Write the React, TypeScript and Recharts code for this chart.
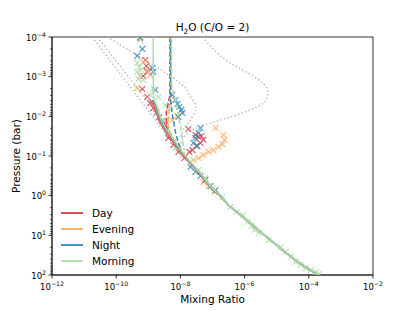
import React from 'react';
import { ScatterChart, Scatter, XAxis, YAxis, ReferenceArea } from 'recharts';

// every point is [mixing ratio, pressure (bar)]
type Pt = [number, number];

const NAMES = ['Day', 'Evening', 'Night', 'Morning'];
const COLORS = ['#d53e4f', '#fdae61', '#3288bd', '#abdda4'];
const GRAY = '#b8b8b8';
const FONT = '"DejaVu Sans", sans-serif';

const X_TICKS = [1e-12, 1e-10, 1e-8, 1e-6, 1e-4, 1e-2];
const Y_DECADES = [1e-4, 1e-3, 1e-2, 1e-1, 1, 10, 100];
const Y_SUBS = [2, 3, 4, 5, 6, 7, 8, 9];
const Y_TICKS = [...Y_DECADES, ...Y_DECADES.slice(0, -1).flatMap((d) => Y_SUBS.map((s) => d * s))];

// solid profiles
const DAY_SOLID: Pt[] = [
  [1.15e-9, 3.9e-3], [1.5e-9, 5.2e-3], [2.1e-9, 1.24e-2], [3.2e-9, 2.2e-2], [5.3e-9, 3.9e-2],
  [9.0e-9, 7.1e-2], [1.62e-8, 0.126], [3.1e-8, 0.225], [5.6e-8, 0.4], [1.0e-7, 0.72],
  [1.7e-7, 1.0], [3.1e-7, 1.72], [7.4e-7, 3.07], [1.52e-6, 4.9], [3.12e-6, 8.2],
  [6.4e-6, 13.1], [1.64e-5, 25], [3.9e-5, 42], [8.1e-5, 63], [1.91e-4, 100],
];
const EVENING_SOLID: Pt[] = [
  [1.25e-9, 3.9e-3], [1.6e-9, 5.2e-3], [2.25e-9, 1.24e-2], [3.45e-9, 2.2e-2], [5.7e-9, 3.9e-2],
  [9.5e-9, 7.1e-2], [1.7e-8, 0.126], [3.25e-8, 0.225], [5.8e-8, 0.4], [1.04e-7, 0.72],
  [1.75e-7, 1.0], [3.13e-7, 1.72], [7.45e-7, 3.07], [1.53e-6, 4.9], [3.14e-6, 8.2],
  [6.45e-6, 13.1], [1.65e-5, 25], [3.9e-5, 42], [8.1e-5, 63], [1.91e-4, 100],
];
const NIGHT_SOLID: Pt[] = [
  [1.33e-9, 3.9e-3], [1.7e-9, 5.2e-3], [2.35e-9, 1.24e-2], [3.6e-9, 2.2e-2], [5.9e-9, 3.9e-2],
  [9.9e-9, 7.1e-2], [1.76e-8, 0.126], [3.35e-8, 0.225], [5.95e-8, 0.4], [1.06e-7, 0.72],
  [1.77e-7, 1.0], [3.16e-7, 1.72], [7.5e-7, 3.07], [1.54e-6, 4.9], [3.16e-6, 8.2],
  [6.5e-6, 13.1], [1.66e-5, 25], [3.9e-5, 42], [8.1e-5, 63], [1.91e-4, 100],
];
const MORNING_SOLID: Pt[] = [
  [1.43e-9, 1e-4], [1.43e-9, 1e-3], [1.45e-9, 2.9e-3], [1.5e-9, 3.9e-3], [1.8e-9, 5.2e-3],
  [2.5e-9, 1.24e-2], [3.8e-9, 2.2e-2], [6.2e-9, 3.9e-2], [1.03e-8, 7.1e-2], [1.82e-8, 0.126],
  [3.45e-8, 0.225], [6.1e-8, 0.4], [1.08e-7, 0.72], [1.8e-7, 1.0], [3.18e-7, 1.72],
  [7.55e-7, 3.07], [1.55e-6, 4.9], [3.18e-6, 8.2], [6.55e-6, 13.1], [1.67e-5, 25],
  [3.92e-5, 42], [8.15e-5, 63], [1.92e-4, 100],
];

// dashed profiles
const DAY_DASH: Pt[] = [[4.7e-9, 1e-4], [4.7e-9, 2.9e-3], [3.65e-9, 8.2e-3], [3.65e-9, 1.86e-2], [6.0e-9, 3.9e-2], [1e-8, 7.1e-2]];
const EVENING_DASH: Pt[] = [[4.9e-9, 1e-4], [4.9e-9, 3.87e-3], [4.2e-9, 9.2e-3], [4.2e-9, 1.97e-2], [6.5e-9, 4.2e-2], [1e-8, 7.1e-2]];
const NIGHT_DASH: Pt[] = [[5.0e-9, 1e-4], [5.0e-9, 3.87e-3], [5.6e-9, 9.2e-3], [7.0e-9, 2.48e-2], [8.7e-9, 4.7e-2], [1.07e-8, 7.1e-2]];
const MORNING_DASH: Pt[] = [[5.3e-9, 1e-4], [5.3e-9, 1.62e-3], [7.5e-9, 5.2e-3], [1e-8, 1.65e-2], [1.15e-8, 3.9e-2], [1.33e-8, 7.1e-2]];

// dotted grey profiles
const DOT_A: Pt[] = [[1.78e-11, 1e-4], [1.66e-9, 1.24e-2], [3.4e-9, 2.63e-2], [8.7e-9, 6.3e-2]];
const DOT_B: Pt[] = [[2.55e-11, 1e-4], [2.05e-9, 9.2e-3], [4.2e-9, 2.2e-2], [1e-8, 5.6e-2]];
const DOT_C: Pt[] = [
  [5.2e-11, 1e-4], [6.0e-9, 1.08e-3], [1.78e-8, 2.58e-3], [2.74e-8, 4.6e-3], [2.94e-8, 6.9e-3],
  [2.05e-8, 1.24e-2], [1.33e-8, 1.97e-2], [1e-8, 3.5e-2],
];
const DOT_D: Pt[] = [
  [4.9e-8, 1e-4], [1.78e-7, 3.0e-4], [7.5e-7, 6.4e-4], [2.55e-6, 1.15e-3], [4.9e-6, 1.93e-3],
  [5.25e-6, 2.9e-3], [3.9e-6, 4.6e-3], [1.24e-6, 7.3e-3], [2.94e-7, 1.1e-2], [8.7e-8, 1.47e-2],
  [3.16e-8, 1.97e-2], [1.43e-8, 2.95e-2], [1e-8, 5.3e-2],
];

// x markers
const DAY_MARK: Pt[] = [
  [5.6e-10, 1.06e-4], [8.1e-10, 3.8e-4], [8.7e-10, 5.4e-4], [9.3e-10, 7.6e-4], [7.0e-10, 9.6e-4],
  [6.5e-10, 2.05e-3], [9.3e-10, 3.25e-3], [1.15e-9, 4.6e-3], [1.43e-9, 6.2e-3], [1.78e-9, 8.2e-3],
  [2.2e-9, 1.04e-2], [2.74e-9, 1.31e-2], [3.4e-9, 1.65e-2], [4.2e-9, 3.5e-2], [6.0e-9, 5.3e-2],
  [8.7e-9, 7.9e-2], [1.33e-8, 0.112], [1.78e-8, 2.08e-2], [2.94e-8, 2.95e-2], [4.5e-8, 3.13e-2],
  [3.65e-8, 3.3e-2], [5.2e-8, 3.9e-2], [4.2e-8, 4.7e-2], [3.16e-8, 5.6e-2], [2.37e-8, 7.1e-2],
  [1.91e-8, 7.9e-2],
];
const EVENING_MARK: Pt[] = [
  [4.5e-10, 1.93e-3], [7.0e-10, 4.3e-4], [1.0e-9, 6.8e-4], [1.15e-9, 9.1e-4], [8.1e-9, 9.8e-3],
  [5.6e-9, 1.24e-2], [1.24e-7, 1.97e-2], [2.2e-7, 2.95e-2], [2.37e-7, 3.9e-2], [2.05e-7, 5.0e-2],
  [1.54e-7, 5.9e-2], [1.07e-7, 7.1e-2], [7.5e-8, 7.9e-2], [5.2e-8, 9.4e-2], [3.65e-8, 0.112],
  [2.55e-8, 0.126], [5.2e-8, 0.45], [7.5e-8, 0.57], [1.15e-7, 0.81],
];
const NIGHT_MARK: Pt[] = [
  [5.6e-10, 1.0e-4], [6.5e-10, 2.0e-4], [4.5e-10, 3.0e-4], [1.33e-9, 6.0e-4], [1.43e-9, 7.6e-4],
  [1.66e-9, 2.17e-3], [5.6e-9, 2.9e-3], [7.0e-9, 3.87e-3], [8.1e-9, 4.9e-3], [9.3e-9, 5.8e-3],
  [1.07e-8, 6.9e-3], [1.15e-8, 8.2e-3], [8.7e-9, 1.04e-2], [4.2e-8, 1.97e-2], [3.65e-8, 2.63e-2],
  [2.94e-8, 3.5e-2], [2.55e-8, 4.7e-2], [3.4e-8, 5.6e-2], [2.05e-8, 0.189], [2.94e-8, 0.253],
  [4.2e-8, 0.32], [6.0e-8, 0.4], [8.7e-8, 0.57], [1.24e-7, 0.72],
];
const MORNING_MARK: Pt[] = [
  [5.6e-10, 1.19e-4], [4.5e-10, 4.5e-4], [5.2e-10, 5.7e-4], [4.5e-10, 7.6e-4], [5.6e-10, 9.6e-4],
  [4.9e-10, 1.15e-3], [7.0e-10, 1.21e-3], [6.0e-10, 6.8e-4], [1.43e-9, 2.05e-3], [1.15e-9, 2.9e-3],
  [2.05e-9, 3.25e-3], [3.4e-9, 5.2e-3], [4.2e-9, 6.2e-3], [1.91e-9, 7.8e-3], [2.94e-9, 1.24e-2],
  [3.9e-9, 2.48e-2], [7.0e-9, 6.3e-2], [1.15e-8, 9.4e-2], [2.05e-8, 0.142], [3.65e-8, 0.225],
  [6.0e-8, 0.36], [1.07e-7, 0.64], [2.05e-7, 1.08], [3.65e-7, 1.93], [5.6e-7, 2.58],
  [8.7e-7, 3.07], [1.24e-6, 4.6], [1.66e-6, 5.8], [2.05e-6, 7.3], [2.74e-6, 8.7],
  [5.6e-6, 13.1], [1.33e-5, 19.7], [1.91e-5, 26], [2.74e-5, 35], [3.9e-5, 47],
  [5.6e-5, 56], [8.1e-5, 67], [1.15e-4, 75], [1.66e-4, 84], [2.05e-4, 94],
];

const SOLIDS = [DAY_SOLID, EVENING_SOLID, NIGHT_SOLID, MORNING_SOLID];
const DASHES = [DAY_DASH, EVENING_DASH, NIGHT_DASH, MORNING_DASH];
const MARKS = [DAY_MARK, EVENING_MARK, NIGHT_MARK, MORNING_MARK];
const DOTS = [DOT_A, DOT_B, DOT_C, DOT_D];

const rows = (pts: Pt[]) => pts.map(([x, y]) => ({ x, y }));
const noShape = () => <g />;

const cross = (color: string) => (props: any) => {
  const { cx, cy } = props;
  if (cx == null || cy == null) return <g />;
  const s = 2.9;
  return (
    <path
      d={`M${cx - s},${cy - s}L${cx + s},${cy + s}M${cx - s},${cy + s}L${cx + s},${cy - s}`}
      stroke={color}
      strokeWidth={1.2}
      strokeOpacity={0.85}
      fill="none"
    />
  );
};

const exponent = (v: number) => Math.round(Math.log10(v));
const fmtExp = (e: number) => (e < 0 ? '\u2212' + Math.abs(e) : String(e));

const XTick = (props: any) => {
  const { x, y, payload } = props;
  const e = exponent(payload.value);
  return (
    <g>
      <line x1={x} x2={x} y1={y} y2={y + 3.5} stroke="#000" strokeWidth={0.8} />
      <text x={x} y={y + 15} textAnchor="middle" fontSize={8.5} fontFamily={FONT} fill="#000">
        10<tspan dy={-4} fontSize={6.2}>{fmtExp(e)}</tspan>
      </text>
    </g>
  );
};

const YTick = (props: any) => {
  const { x, y, payload } = props;
  const lg = Math.log10(payload.value);
  const e = Math.round(lg);
  const major = Math.abs(lg - e) < 1e-6;
  return (
    <g>
      <line x1={x} x2={x - (major ? 3.5 : 2)} y1={y} y2={y} stroke="#000" strokeWidth={major ? 0.8 : 0.6} />
      {major && (
        <text x={x - 6} y={y + 3.5} textAnchor="end" fontSize={8.5} fontFamily={FONT} fill="#000">
          10<tspan dy={-4} fontSize={6.2}>{fmtExp(e)}</tspan>
        </text>
      )}
    </g>
  );
};

export default function App() {
  return (
    <div style={{ position: 'absolute', left: 0, top: 0, width: 415, height: 311, background: '#fff' }}>
      <ScatterChart width={415} height={311} margin={{ top: 37, right: 42, bottom: 6, left: 8 }}>
        <XAxis
          type="number"
          dataKey="x"
          scale="log"
          domain={[1e-12, 1e-2]}
          ticks={X_TICKS}
          interval={0}
          allowDataOverflow
          height={30}
          tick={<XTick />}
          tickLine={false}
          tickSize={0}
          tickMargin={0}
          axisLine={{ stroke: '#000', strokeWidth: 0.8 }}
        />
        <YAxis
          type="number"
          dataKey="y"
          scale="log"
          domain={[1e-4, 100]}
          reversed
          ticks={Y_TICKS}
          interval={0}
          allowDataOverflow
          width={44}
          tick={<YTick />}
          tickLine={false}
          tickSize={0}
          tickMargin={0}
          axisLine={{ stroke: '#000', strokeWidth: 0.8 }}
        />
        {DOTS.map((d, i) => (
          <Scatter
            key={'dot' + i}
            data={rows(d)}
            line={{ stroke: GRAY, strokeWidth: 1.4, strokeDasharray: '1.4 2.3' }}
            lineJointType="natural"
            shape={noShape}
            isAnimationActive={false}
          />
        ))}
        {MARKS.map((m, i) => (
          <Scatter key={'mark' + i} data={rows(m)} shape={cross(COLORS[i])} isAnimationActive={false} />
        ))}
        {DASHES.map((d, i) => (
          <Scatter
            key={'dash' + i}
            data={rows(d)}
            line={{ stroke: COLORS[i], strokeWidth: 1.5, strokeDasharray: '5 2.4', strokeDashoffset: i * 2 }}
            shape={noShape}
            isAnimationActive={false}
          />
        ))}
        {SOLIDS.map((d, i) => (
          <Scatter
            key={'solid' + i}
            data={rows(d)}
            line={{ stroke: COLORS[i], strokeWidth: 1.5 }}
            shape={noShape}
            isAnimationActive={false}
          />
        ))}
        <ReferenceArea
          x1={1e-12}
          x2={1e-2}
          y1={1e-4}
          y2={100}
          fill="none"
          fillOpacity={0}
          stroke="#000"
          strokeWidth={0.8}
          ifOverflow="visible"
        />
      </ScatterChart>
      <svg width={415} height={311} style={{ position: 'absolute', left: 0, top: 0, pointerEvents: 'none' }}>
        <text x={212.5} y={31} textAnchor="middle" fontSize={10.5} fontFamily={FONT}>
          H<tspan dy={2.5} fontSize={7.3}>2</tspan>
          <tspan dy={-2.5}>O (C/O = 2)</tspan>
        </text>
        <text x={212.5} y={303} textAnchor="middle" fontSize={10.5} fontFamily={FONT}>
          Mixing Ratio
        </text>
        <text transform="translate(20,156) rotate(-90)" textAnchor="middle" fontSize={10.5} fontFamily={FONT}>
          Pressure (bar)
        </text>
        {NAMES.map((name, i) => (
          <g key={name}>
            <line x1={61} x2={83} y1={213 + i * 16} y2={213 + i * 16} stroke={COLORS[i]} strokeWidth={1.8} />
            <text x={92} y={217 + i * 16} fontSize={10.5} fontFamily={FONT}>
              {name}
            </text>
          </g>
        ))}
      </svg>
    </div>
  );
}
